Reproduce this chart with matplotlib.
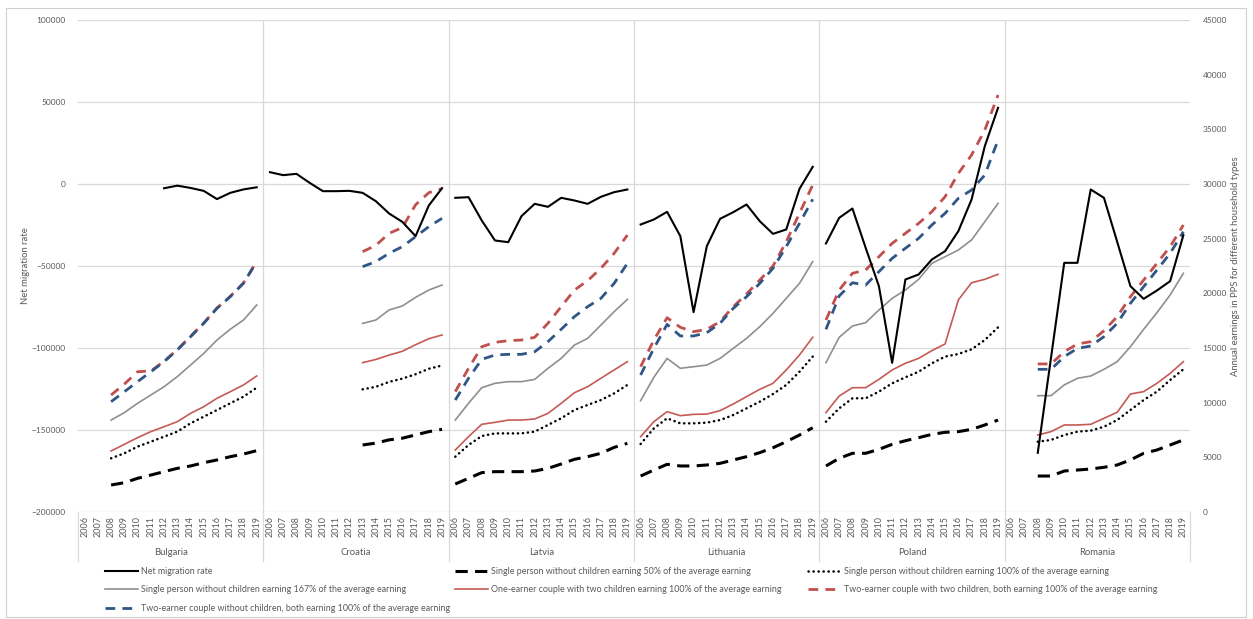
import matplotlib
matplotlib.use("Agg")
import matplotlib.pyplot as plt
import matplotlib.transforms as mtransforms
from matplotlib.lines import Line2D
from matplotlib.patches import Rectangle
import numpy as np

nan = np.nan

# Страны и годы (двухуровневая ось категорий)
countries = ["Bulgaria", "Croatia", "Latvia", "Lithuania", "Poland", "Romania"]
years = list(range(2006, 2020))

# Чистая миграция, 2006-2019 по каждой стране
migration = [
    [nan] * 6 + [-2600, -1000, -2400, -4200, -9200, -5400, -3300, -2000],
    [7210, 5390, 6200, 710, -4370, -4370, -4170, -5390, -10470, -17990, -23070, -31810, -13110, -2540],
    [-8430, -8030, -22260, -34450, -35470, -19610, -12090, -13920, -8430, -10060, -12090, -7820, -4980, -3350],
    [-24700, -21650, -16970, -31810, -78150, -37910, -21240, -17170, -12500, -22660, -30390, -27740, -2950, 10470],
    [-36280, -20630, -14940, -38920, -62300, -109040, -58230, -55180, -46040, -40960, -28760, -9450, 23070, 46440],
    [nan, nan, -163920, -106000, -48070, -48070, -3350, -8430, -35260, -62300, -70020, -64940, -59250, -31200],
]

# Годовой заработок в PPS по типам домохозяйств
single_50 = [
    [nan, nan, 2470, 2680, 3080, 3380, 3690, 3990, 4210, 4510, 4760, 5060, 5300, 5610],
    [nan] * 7 + [6130, 6300, 6600, 6750, 7050, 7350, 7560],
    [2560, 3080, 3600, 3690, 3690, 3690, 3750, 3990, 4390, 4820, 5060, 5370, 5910, 6280],
    [3290, 3840, 4360, 4210, 4210, 4300, 4450, 4760, 5060, 5430, 5880, 6430, 7040, 7710],
    [4210, 4910, 5370, 5370, 5730, 6190, 6520, 6800, 7100, 7290, 7350, 7560, 7960, 8410],
    [nan, nan, 3290, 3290, 3750, 3840, 3930, 4090, 4300, 4760, 5370, 5670, 6130, 6590],
]
single_100 = [
    [nan, nan, 4910, 5370, 5980, 6430, 6890, 7350, 8110, 8720, 9330, 9940, 10550, 11370],
    [nan] * 7 + [11220, 11450, 11900, 12200, 12600, 13100, 13400],
    [5060, 6130, 6950, 7190, 7190, 7190, 7350, 7960, 8570, 9330, 9790, 10240, 10850, 11620],
    [6220, 7650, 8570, 8110, 8110, 8170, 8410, 8870, 9480, 10090, 10790, 11620, 12830, 14210],
    [8260, 9480, 10400, 10400, 11010, 11770, 12320, 12830, 13600, 14210, 14450, 14880, 15730, 16890],
    [nan, nan, 6430, 6590, 7040, 7350, 7440, 7800, 8410, 9330, 10240, 11010, 12070, 13050],
]
single_167 = [
    [nan, nan, 8410, 9090, 9940, 10700, 11460, 12380, 13440, 14510, 15730, 16710, 17560, 18930],
    [nan] * 7 + [17250, 17560, 18480, 18840, 19630, 20300, 20760],
    [8410, 9940, 11370, 11770, 11920, 11920, 12130, 13140, 14050, 15270, 15880, 17100, 18320, 19450],
    [10180, 12320, 14050, 13140, 13290, 13440, 14050, 14970, 15880, 16950, 18170, 19540, 20910, 22900],
    [13660, 15980, 17010, 17320, 18470, 19540, 20300, 21280, 22740, 23350, 23960, 24880, 26550, 28230],
    [nan, nan, 10640, 10640, 11620, 12230, 12440, 13050, 13750, 15120, 16710, 18230, 19850, 21830],
]
one_earner_kids = [
    [nan, nan, 5580, 6190, 6800, 7350, 7800, 8260, 9020, 9630, 10400, 11000, 11620, 12440],
    [nan] * 7 + [13660, 13950, 14350, 14700, 15300, 15850, 16190],
    [5670, 6890, 8020, 8200, 8410, 8410, 8510, 9020, 9940, 10910, 11460, 12230, 12990, 13750],
    [6890, 8260, 9180, 8810, 8930, 8960, 9270, 9880, 10550, 11220, 11770, 12990, 14360, 15980],
    [9090, 10610, 11370, 11370, 12130, 12990, 13600, 14050, 14760, 15370, 19390, 20970, 21280, 21740],
    [nan, nan, 7040, 7350, 7960, 7960, 8020, 8570, 9120, 10790, 11010, 11770, 12680, 13750],
]
two_earner_kids = [
    [nan, nan, 10700, 11700, 12830, 12900, 13780, 14850, 16060, 17290, 18660, 19720, 20950, 22920],
    [nan] * 7 + [23810, 24390, 25490, 26010, 28100, 29210, 29570],
    [11010, 13140, 15120, 15520, 15670, 15730, 15980, 17260, 18780, 20300, 21160, 22290, 23660, 25330],
    [13290, 15730, 17770, 16890, 16490, 16710, 17410, 18780, 19940, 21220, 22500, 24720, 27320, 29910],
    [17560, 20300, 21830, 22130, 23350, 24570, 25490, 26400, 27470, 28840, 30970, 32650, 34940, 38140],
    [nan, nan, 13540, 13540, 14660, 15370, 15580, 16580, 17870, 19690, 21220, 22740, 24270, 26250],
]
two_earner_no_kids = [
    [nan, nan, 10090, 11000, 11920, 12830, 13750, 14820, 16030, 17260, 18630, 19690, 20920, 22890],
    [nan] * 7 + [22440, 22900, 23660, 24270, 25180, 26100, 26860],
    [10240, 12230, 13960, 14360, 14420, 14420, 14660, 15580, 16710, 17870, 18780, 19540, 20910, 22740],
    [12530, 14970, 17160, 16100, 16100, 16400, 17260, 18630, 19690, 20910, 22290, 24270, 26400, 28600],
    [16710, 19760, 20970, 20760, 21980, 23200, 24120, 25030, 26250, 27320, 28690, 29450, 30820, 34020],
    [nan, nan, 13050, 13050, 14210, 14970, 15180, 16040, 17260, 19090, 20610, 22130, 23660, 25640],
]

TEXT = "#595959"
GRID = "#d9d9d9"
plt.rcParams["font.family"] = ["Lato", "DejaVu Sans"]

# Стили линий
st_mig = dict(color="black", lw=1.5, label="Net migration rate")
st_50 = dict(color="black", lw=2.2, dashes=(4, 2.4), label="Single person without children earning 50% of the average earning")
st_100 = dict(color="black", lw=1.8, dashes=(0.1, 1.9), dash_capstyle="round",
              label="Single person without children earning 100% of the average earning")
st_167 = dict(color="#8f8f8f", lw=1.2, label="Single person without children earning 167% of the average earning")
st_one = dict(color="#c55a55", lw=1.2, label="One-earner couple with two children earning 100% of the average earning")
st_two_k = dict(color="#c0504d", lw=2.0, dashes=(3.5, 2.6),
                label="Two-earner couple with two children, both earning 100% of the average earning")
st_two_nk = dict(color="#2f5686", lw=2.0, dashes=(3.5, 2.6),
                 label="Two-earner couple without children, both earning 100% of the average earning")

W, H = 1253, 619
fig = plt.figure(figsize=(W / 100, H / 100), dpi=100)
ax = fig.add_axes([78 / W, 1 - 512 / H, (1190 - 78) / W, 492 / H])
ax_r = ax.twinx()   # заработки, правая ось
ax_m = ax.twinx()   # миграция поверх остальных линий

n = len(years)
earn_series = [(single_50, st_50), (single_100, st_100), (single_167, st_167),
               (one_earner_kids, st_one), (two_earner_kids, st_two_k), (two_earner_no_kids, st_two_nk)]

for i, country in enumerate(countries):
    x = np.arange(n) + i * n
    for data, st in earn_series:
        kw = {k: v for k, v in st.items() if k != "label"}
        ax_r.plot(x, data[i], **kw)
    kw = {k: v for k, v in st_mig.items() if k != "label"}
    ax_m.plot(x, migration[i], **kw)

# Левая ось
ax.set_xlim(-0.5, n * len(countries) - 0.5)
ax.set_ylim(-200000, 100000)
ax.set_yticks(range(-200000, 100001, 50000))
ax.grid(axis="y", color=GRID, lw=0.9)
ax.set_axisbelow(True)
ax.tick_params(axis="y", length=0, pad=9, labelsize=6, labelcolor=TEXT)
ax.set_ylabel("Net migration rate", fontsize=6.8, color=TEXT)
ax.yaxis.set_label_coords(-0.043, 0.5)

ax.set_xticks(np.arange(n * len(countries)))
ax.set_xticklabels([str(y) for y in years] * len(countries), rotation=90, fontsize=6.5, color=TEXT)
ax.tick_params(axis="x", length=0, pad=3)

# Правая ось
ax_r.set_ylim(0, 45000)
ax_r.set_yticks(range(0, 45001, 5000))
ax_r.tick_params(axis="y", length=0, pad=9, labelsize=6, labelcolor=TEXT)
ax_r.set_ylabel("Annual earnings in PPS for different household types", fontsize=6.8, color=TEXT)
ax_r.yaxis.set_label_coords(1.037, 0.5)

ax_m.set_ylim(ax.get_ylim())
ax_m.set_yticks([])

for a in (ax, ax_r, ax_m):
    for s in a.spines.values():
        s.set_visible(False)

# Разделители стран и подписи стран под осью
trans = mtransforms.blended_transform_factory(ax.transData, ax.transAxes)
for i in range(len(countries) + 1):
    b = i * n - 0.5
    if 0 < i < len(countries):
        ax.axvline(b, color=GRID, lw=0.9)
    ax.plot([b, b], [0, -0.1], transform=trans, color=GRID, lw=0.9, clip_on=False)
for i, country in enumerate(countries):
    ax.text(i * n + (n - 1) / 2, -0.083, country, transform=trans, ha="center", va="center",
            fontsize=6.8, color=TEXT)

# Легенда в три колонки
styles = [st_mig, st_50, st_100, st_167, st_one, st_two_k, st_two_nk]
handles = [Line2D([], [], **{k: v for k, v in s.items() if k != "label"}) for s in styles]
labels = [s["label"] for s in styles]
for xpix, idxs in zip([105, 455, 808], [[0, 3, 6], [1, 4], [2, 5]]):
    fig.legend([handles[j] for j in idxs], [labels[j] for j in idxs], loc="upper left",
               bbox_to_anchor=(xpix / W, 1 - 567 / H), frameon=False, fontsize=6.4,
               handlelength=3.7, handletextpad=0.4, labelspacing=1.05, borderpad=0,
               borderaxespad=0, labelcolor=TEXT)

# Рамка вокруг рисунка
fig.patches.append(Rectangle((6 / W, 2 / H), (1246 - 6) / W, (611 - 2) / H, transform=fig.transFigure,
                             fill=False, ec="#d0d0d0", lw=0.8))

fig.savefig("out.png", dpi=100)
